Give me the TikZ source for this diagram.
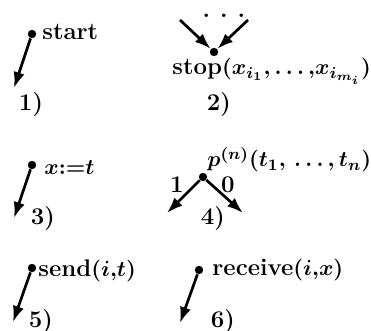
\documentclass[tikz,border=0pt]{standalone}
\usepackage{amsmath}
\usepackage{tikz}
\usetikzlibrary{arrows.meta,positioning}
\newcommand{\mth}[1]{{\fontsize{11.2pt}{13pt}\selectfont$#1$}}

\begin{document}
\begin{tikzpicture}[
  x=0.5pt,y=-0.5pt,
  dot/.style={circle,fill=black,inner sep=0pt,minimum size=4.2pt},
  lbl/.style={font=\large\bfseries\boldmath,inner sep=0pt},
  arrow/.style={-{Latex[length=2.8mm,width=2mm]},line width=1.35pt}
]
\useasboundingbox (0,0) rectangle (371,331);
\node[dot] (a) at (32,34) {};
\coordinate (a1) at (14,88);
\node[lbl,anchor=base west] (at) at (42,40) {start};
\node[lbl,anchor=base] (an) at (31,111) {1)};
\draw[arrow] (a) -- (a1);
\node[dot] (b) at (214,52) {};
\coordinate (b1) at (180,20);
\coordinate (b2) at (248,20);
\node[lbl,anchor=base] (bd) at (224,18) {.\hspace{5pt}.\hspace{5pt}.};
\node[lbl,anchor=base west] (bt) at (172,75) {stop\mth{(x_{i_1}{,}\ldots{,}x_{i_{m_i}})}};
\node[lbl,anchor=base] (bn) at (219,111) {2)};
\draw[arrow] (b1) -- (b);
\draw[arrow] (b2) -- (b);
\node[dot] (c) at (32,165) {};
\coordinate (c1) at (14,218);
\node[lbl,anchor=base west] (ct) at (44,175) {\mth{x{:=}t}};
\node[lbl,anchor=base] (cn) at (43,225) {3)};
\draw[arrow] (c) -- (c1);
\node[dot] (d) at (203,177) {};
\coordinate (d1) at (167,213);
\coordinate (d2) at (243,213);
\node[lbl] (dl) at (177,185) {1};
\node[lbl] (dr) at (228,185) {0};
\node[lbl,anchor=base west] (dt) at (207,167) {\mth{p^{(n)}(t_1{,}\,\ldots{,}\,t_n)}};
\node[lbl,anchor=base] (dn) at (213,225) {4)};
\draw[arrow] (d) -- (d1);
\draw[arrow] (d) -- (d2);
\node[dot] (e) at (32,268) {};
\coordinate (e1) at (13,322);
\node[lbl,anchor=base west] (et) at (38,277) {send\mth{(i{,}t)}};
\node[lbl,anchor=base] (en) at (41,328) {5)};
\draw[arrow] (e) -- (e1);
\node[dot] (f) at (199,270) {};
\coordinate (f1) at (180,323);
\node[lbl,anchor=base west] (ft) at (212,276) {receive\mth{(i{,}x)}};
\node[lbl,anchor=base] (fn) at (223,328) {6)};
\draw[arrow] (f) -- (f1);
\end{tikzpicture}
\end{document}
